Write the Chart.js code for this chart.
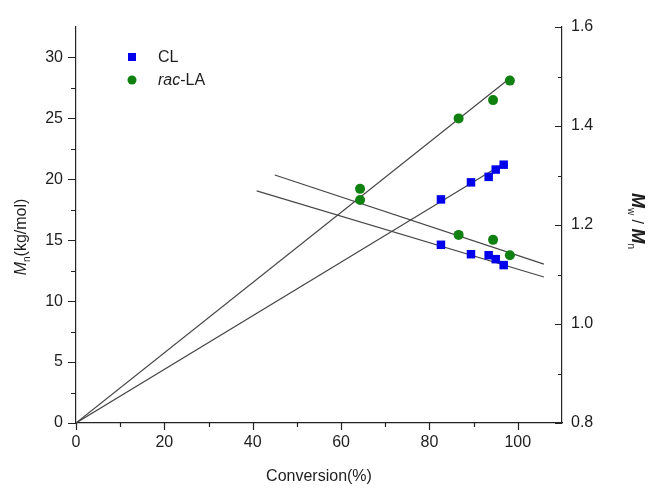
<!DOCTYPE html>
<html>
<head>
<meta charset="utf-8">
<script src="https://cdn.jsdelivr.net/npm/chart.js@4/dist/chart.umd.min.js"></script>
<style>
  html, body { margin: 0; padding: 0; background: #fff; }
  #wrap { width: 657px; height: 489px; position: relative; }
</style>
</head>
<body>
<div id="wrap"><canvas id="conv-chart"></canvas></div>
<script>
// values
const cl_conv = [82.6, 89.4, 93.4, 95.0, 96.8];
const cl_mn = [18.35, 19.75, 20.2, 20.8, 21.2];
const cl_pdi = [1.160, 1.141, 1.139, 1.131, 1.119];

const la_conv = [64.3, 86.6, 94.4, 98.2];
const la_mn = [18.3, 25.0, 26.5, 28.1];
const la_pdi = [1.273, 1.180, 1.170, 1.139];

// fitted lines (end points as drawn)
const cl_mn_fit_x = [0, 96.8];
const cl_mn_fit_y = [0, 21.3];
const la_mn_fit_x = [0, 98.2];
const la_mn_fit_y = [0, 28.3];
const cl_pdi_fit_x = [40.9, 105.9];
const cl_pdi_fit_y = [1.269, 1.095];
const la_pdi_fit_x = [45.0, 105.9];
const la_pdi_fit_y = [1.301, 1.121];

// axis ticks
const x_ticks = [0, 20, 40, 60, 80, 100];
const x_minor = [10, 30, 50, 70, 90];
const mn_ticks = [0, 5, 10, 15, 20, 25, 30];
const mn_minor = [2.5, 7.5, 12.5, 17.5, 22.5, 27.5];
const pdi_ticks = [0.8, 1.0, 1.2, 1.4, 1.6];
const pdi_minor = [0.9, 1.1, 1.3, 1.5];

const BLUE = 'rgb(0, 0, 235)';
const GREEN = 'rgb(16, 128, 16)';
const FIT = 'rgb(70, 70, 70)';
const AXIS = 'rgb(35, 35, 35)';
const FONT = "'Liberation Sans', Arial, sans-serif";

function pts(xs, ys) {
    return xs.map((v, i) => ({x: v, y: ys[i]}));
}

function fit_line(xs, ys, axis) {
    return {
        label: 'fit',
        data: pts(xs, ys),
        yAxisID: axis,
        showLine: true,
        borderColor: FIT,
        borderWidth: 1.2,
        pointRadius: 0,
        order: 5,
    };
}

function marks(xs, ys, axis, color, style) {
    return {
        label: 'pts',
        data: pts(xs, ys),
        yAxisID: axis,
        backgroundColor: color,
        borderColor: color,
        borderWidth: 0,
        pointStyle: style,
        pointRadius: style === 'rect' ? 6 : 5,
        order: 1,
    };
}

function crisp(v) {
    return Math.round(v) + 0.5;
}

// draw one run of text pieces: [text, font, dy]
function draw_rich(ctx, pieces, align_center) {
    let w = 0;
    pieces.forEach(p => { ctx.font = p[1]; w += ctx.measureText(p[0]).width; });
    let x = align_center ? -w / 2 : 0;
    pieces.forEach(p => {
        ctx.font = p[1];
        ctx.fillText(p[0], x, p[2]);
        x += ctx.measureText(p[0]).width;
    });
}

const frame_plugin = {
    id: 'frame',
    afterDraw(chart) {
        const ctx = chart.ctx;
        const sx = chart.scales.x, sy = chart.scales.y, sr = chart.scales.y1;
        const area = chart.chartArea;
        ctx.save();
        ctx.strokeStyle = AXIS;
        ctx.lineWidth = 1.2;
        ctx.beginPath();
        // bottom axis, ticks outward
        x_ticks.forEach(v => { const p = crisp(sx.getPixelForValue(v)); ctx.moveTo(p, area.bottom); ctx.lineTo(p, area.bottom + 7); });
        x_minor.forEach(v => { const p = crisp(sx.getPixelForValue(v)); ctx.moveTo(p, area.bottom); ctx.lineTo(p, area.bottom + 4); });
        // left axis, ticks outward
        mn_ticks.forEach(v => { const p = crisp(sy.getPixelForValue(v)); ctx.moveTo(area.left, p); ctx.lineTo(area.left - 8, p); });
        mn_minor.forEach(v => { const p = crisp(sy.getPixelForValue(v)); ctx.moveTo(area.left, p); ctx.lineTo(area.left - 5, p); });
        // right axis, ticks inward
        pdi_ticks.forEach(v => { const p = crisp(sr.getPixelForValue(v)); ctx.moveTo(area.right, p); ctx.lineTo(area.right - 7, p); });
        pdi_minor.forEach(v => { const p = crisp(sr.getPixelForValue(v)); ctx.moveTo(area.right, p); ctx.lineTo(area.right - 4, p); });
        ctx.stroke();

        ctx.fillStyle = 'rgb(30, 30, 30)';
        ctx.textBaseline = 'alphabetic';

        // x title
        ctx.textAlign = 'center';
        ctx.font = '16px ' + FONT;
        ctx.fillText('Conversion(%)', (area.left + area.right) / 2, 481);

        ctx.textAlign = 'left';
        // left title
        ctx.save();
        ctx.translate(26, 237);
        ctx.rotate(-Math.PI / 2);
        draw_rich(ctx, [
            ['M', 'italic 16px ' + FONT, 0],
            ['n', '10px ' + FONT, 4],
            ['(kg/mol)', '16px ' + FONT, 0],
        ], true);
        ctx.restore();

        // right title
        ctx.save();
        ctx.translate(632, 221);
        ctx.rotate(Math.PI / 2);
        draw_rich(ctx, [
            ['M', 'italic bold 18px ' + FONT, 0],
            ['w', '10px ' + FONT, 4],
            [' / ', '16px ' + FONT, 0],
            ['M', 'italic bold 18px ' + FONT, 0],
            ['n', '10px ' + FONT, 4],
        ], true);
        ctx.restore();

        // legend
        ctx.fillStyle = BLUE;
        ctx.fillRect(128, 53, 8, 8);
        ctx.fillStyle = GREEN;
        ctx.beginPath();
        ctx.arc(132, 80, 4.5, 0, Math.PI * 2);
        ctx.fill();
        ctx.fillStyle = 'rgb(30, 30, 30)';
        ctx.textBaseline = 'middle';
        ctx.font = '16px ' + FONT;
        ctx.fillText('CL', 158, 58);
        ctx.save();
        ctx.translate(158, 81);
        draw_rich(ctx, [
            ['rac', 'italic 16px ' + FONT, 0],
            ['-LA', '16px ' + FONT, 0],
        ], false);
        ctx.restore();
        ctx.restore();
    }
};

const conv_config = {
    type: 'scatter',
    data: {
        datasets: [
            fit_line(cl_mn_fit_x, cl_mn_fit_y, 'y'),
            fit_line(la_mn_fit_x, la_mn_fit_y, 'y'),
            fit_line(cl_pdi_fit_x, cl_pdi_fit_y, 'y1'),
            fit_line(la_pdi_fit_x, la_pdi_fit_y, 'y1'),
            marks(cl_conv, cl_mn, 'y', BLUE, 'rect'),
            marks(la_conv, la_mn, 'y', GREEN, 'circle'),
            marks(cl_conv, cl_pdi, 'y1', BLUE, 'rect'),
            marks(la_conv, la_pdi, 'y1', GREEN, 'circle'),
        ]
    },
    options: {
        responsive: true,
        maintainAspectRatio: false,
        animation: false,
        layout: { padding: { top: 27, left: 0, right: 0, bottom: 0 } },
        plugins: {
            legend: { display: false },
            tooltip: { enabled: false },
        },
        scales: {
            x: {
                type: 'linear',
                min: 0,
                max: 110,
                afterBuildTicks: s => { s.ticks = x_ticks.map(v => ({value: v})); },
                afterFit: s => { s.height = 66; },
                grid: { display: false, drawTicks: false },
                border: { display: true, color: AXIS, width: 1.2 },
                ticks: { padding: 10, color: 'rgb(30,30,30)', font: { family: FONT, size: 16 } },
            },
            y: {
                position: 'left',
                min: 0,
                max: 32.5,
                afterBuildTicks: s => { s.ticks = mn_ticks.map(v => ({value: v})); },
                afterFit: s => { s.width = 76; },
                grid: { display: false, drawTicks: false },
                border: { display: true, color: AXIS, width: 1.2 },
                ticks: { padding: 13, color: 'rgb(30,30,30)', font: { family: FONT, size: 16 } },
            },
            y1: {
                position: 'right',
                min: 0.8,
                max: 1.6,
                afterBuildTicks: s => { s.ticks = pdi_ticks.map(v => ({value: v})); },
                afterFit: s => { s.width = 95; },
                grid: { display: false, drawTicks: false },
                border: { display: true, color: AXIS, width: 1.2 },
                ticks: {
                    padding: 9,
                    color: 'rgb(30,30,30)',
                    font: { family: FONT, size: 16 },
                    callback: v => v.toFixed(1),
                },
            },
        }
    },
    plugins: [frame_plugin],
};

const conv_ctx = document.getElementById('conv-chart').getContext('2d');
const conv_chart = new Chart(conv_ctx, conv_config);
</script>
</body>
</html>
